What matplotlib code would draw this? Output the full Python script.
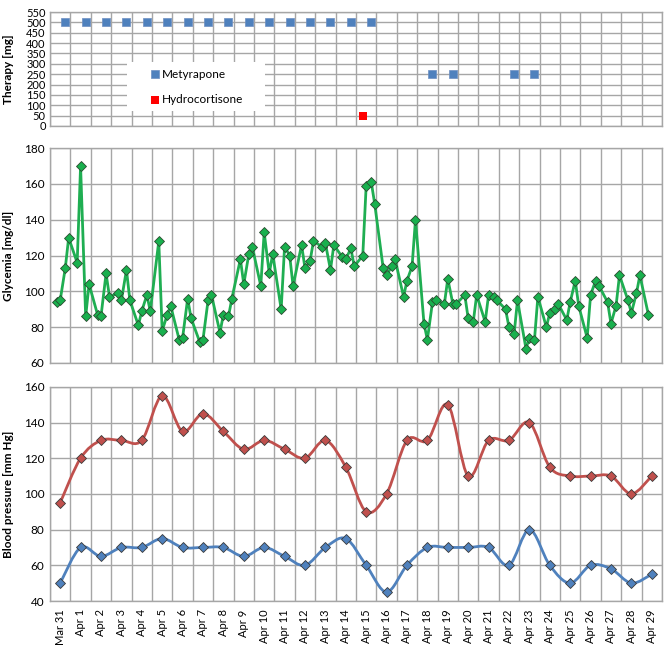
import numpy as np
import matplotlib
matplotlib.use("Agg")
import matplotlib.pyplot as plt
from matplotlib.path import Path
from matplotlib.patches import PathPatch, Rectangle

plt.rcParams['font.family'] = ['Lato', 'DejaVu Sans']

# category labels (one per day)
days = ["Mar 31"] + ["Apr %d" % d for d in range(1, 30)]

# therapy: day index, dose [mg], hour of dose
metyrapone_day = [0, 1, 2, 3, 4, 5, 6, 7, 8, 9, 10, 11, 12, 13, 14, 15, 18, 19, 22, 23]
metyrapone_mg = [500, 500, 500, 500, 500, 500, 500, 500, 500, 500, 500, 500, 500, 500, 500, 500,
                 250, 250, 250, 250]
metyrapone_hour = 18
hydrocortisone_day = [15]
hydrocortisone_mg = [50]
hydrocortisone_hour = 8

# glycemia readings, four per day at these hours
glyc_hours = [8, 12, 18, 22]
glycemia = [
    [94, 95, 113, 130], [116, 170, 86, 104], [87, 86, 110, 97], [99, 95, 112, 95],
    [81, 89, 98, 89], [128, 78, 87, 92], [73, 74, 96, 85], [72, 73, 95, 98],
    [77, 87, 86, 96], [118, 104, 121, 125], [103, 133, 110, 121], [90, 125, 120, 103],
    [126, 113, 117, 128], [125, 127, 112, 126], [119, 118, 124, 114], [120, 159, 161, 149],
    [113, 109, 114, 118], [97, 106, 114, 140], [82, 73, 94, 95], [93, 107, 93, 93],
    [98, 85, 83, 98], [83, 98, 97, 95], [90, 80, 76, 95], [68, 74, 73, 97],
    [80, 88, 90, 93], [84, 94, 106, 92], [74, 98, 106, 103], [94, 82, 92, 109],
    [95, 88, 99, 109], [87],
]

# blood pressure, one per day
systolic = [95, 120, 130, 130, 130, 155, 135, 145, 135, 125, 130, 125, 120, 130, 115,
            90, 100, 130, 130, 150, 110, 130, 130, 140, 115, 110, 110, 110, 100, 110]
diastolic = [50, 70, 65, 70, 70, 75, 70, 70, 70, 65, 70, 65, 60, 70, 75,
             60, 45, 60, 70, 70, 70, 70, 60, 80, 60, 50, 60, 58, 50, 55]

GRID = "#a6a6a6"
BLUE = "#4f81bd"
RED = "#c0504d"
GREEN = "#1fae52"


def smooth_path(x, y):
    # Excel-like smoothed line (Catmull-Rom as cubic Bezier)
    n = len(x)
    verts = [(x[0], y[0])]
    codes = [Path.MOVETO]
    for i in range(n - 1):
        x0, y0 = (x[i - 1], y[i - 1]) if i > 0 else (x[i], y[i])
        x3, y3 = (x[i + 2], y[i + 2]) if i + 2 < n else (x[i + 1], y[i + 1])
        c1 = (x[i] + (x[i + 1] - x0) / 6, y[i] + (y[i + 1] - y0) / 6)
        c2 = (x[i + 1] - (x3 - x[i]) / 6, y[i + 1] - (y3 - y[i]) / 6)
        verts += [c1, c2, (x[i + 1], y[i + 1])]
        codes += [Path.CURVE4] * 3
    return Path(verts, codes)


def style(ax, yticks):
    ax.set_xlim(0, len(days))
    ax.set_ylim(yticks[0], yticks[-1])
    ax.set_yticks(yticks)
    ax.set_xticks(np.arange(len(days) + 1), minor=True)
    ax.grid(False)
    ax.grid(True, which="minor", axis="x", color=GRID, lw=1)
    ax.grid(True, which="major", axis="y", color=GRID, lw=1)
    ax.set_axisbelow(True)
    for s in ax.spines.values():
        s.set_color(GRID)
        s.set_linewidth(1)
    ax.tick_params(which="both", length=0, labelsize=8.5, pad=4)


fig = plt.figure(figsize=(6.69, 6.51), dpi=100)
ax1 = fig.add_axes([0.0747, 0.8065, 0.9148, 0.175])
ax2 = fig.add_axes([0.0747, 0.4424, 0.9148, 0.330])
ax3 = fig.add_axes([0.0747, 0.0768, 0.9148, 0.329])

# --- therapy
style(ax1, np.arange(0, 551, 50))
ax1.tick_params(labelsize=8, pad=3)
ax1.set_xticks([])
mx = np.array(metyrapone_day) + metyrapone_hour / 24
hx = np.array(hydrocortisone_day) + hydrocortisone_hour / 24
ax1.scatter(mx, metyrapone_mg, marker="s", s=38, color=BLUE, edgecolor="#6d8fc2", lw=0.5,
            label="Metyrapone", zorder=3)
ax1.scatter(hx, hydrocortisone_mg, marker="s", s=38, color="#ff0000", lw=0,
            label="Hydrocortisone", zorder=3)
ax1.add_patch(Rectangle((0.126, 0.13), 0.225, 0.43, transform=ax1.transAxes,
                        facecolor="white", edgecolor="none", zorder=2))
ax1.legend(loc="center", bbox_to_anchor=(0.2385, 0.345), frameon=False, fontsize=8.5,
           handletextpad=0.1, labelspacing=1.2, handlelength=1.0, markerscale=0.9)
ax1.set_ylabel("Therapy [mg]", fontsize=8.5, fontweight="bold")
ax1.yaxis.set_label_coords(-0.058, 0.5)

# --- glycemia
style(ax2, np.arange(60, 181, 20))
ax2.set_xticks([])
gx = [d + h / 24 for d, vals in enumerate(glycemia) for h in glyc_hours[:len(vals)]]
gy = [v for vals in glycemia for v in vals]
ax2.plot(gx, gy, color=GREEN, lw=2, marker="D", ms=5, mfc="#19b04e", mec="#2a4a2f",
         mew=0.6, zorder=3)
ax2.set_ylabel("Glycemia [mg/dl]", fontsize=8.5, fontweight="bold")
ax2.yaxis.set_label_coords(-0.058, 0.5)

# --- blood pressure
style(ax3, np.arange(40, 161, 20))
bx = np.arange(len(days)) + 0.5
ax3.set_xticks(bx)
ax3.set_xticklabels(days, rotation=90, fontsize=8)
ax3.tick_params(axis="x", pad=6)
for vals, col in [(systolic, RED), (diastolic, BLUE)]:
    ax3.add_patch(PathPatch(smooth_path(bx, vals), fill=False, edgecolor=col, lw=2, zorder=3))
    ax3.plot(bx, vals, ls="none", marker="D", ms=5.5, mfc=col, mec="#3a3a3a", mew=0.6, zorder=4)
ax3.set_ylabel("Blood pressure [mm Hg]", fontsize=8.5, fontweight="bold")
ax3.yaxis.set_label_coords(-0.058, 0.5)

fig.savefig("out.png", dpi=100)
